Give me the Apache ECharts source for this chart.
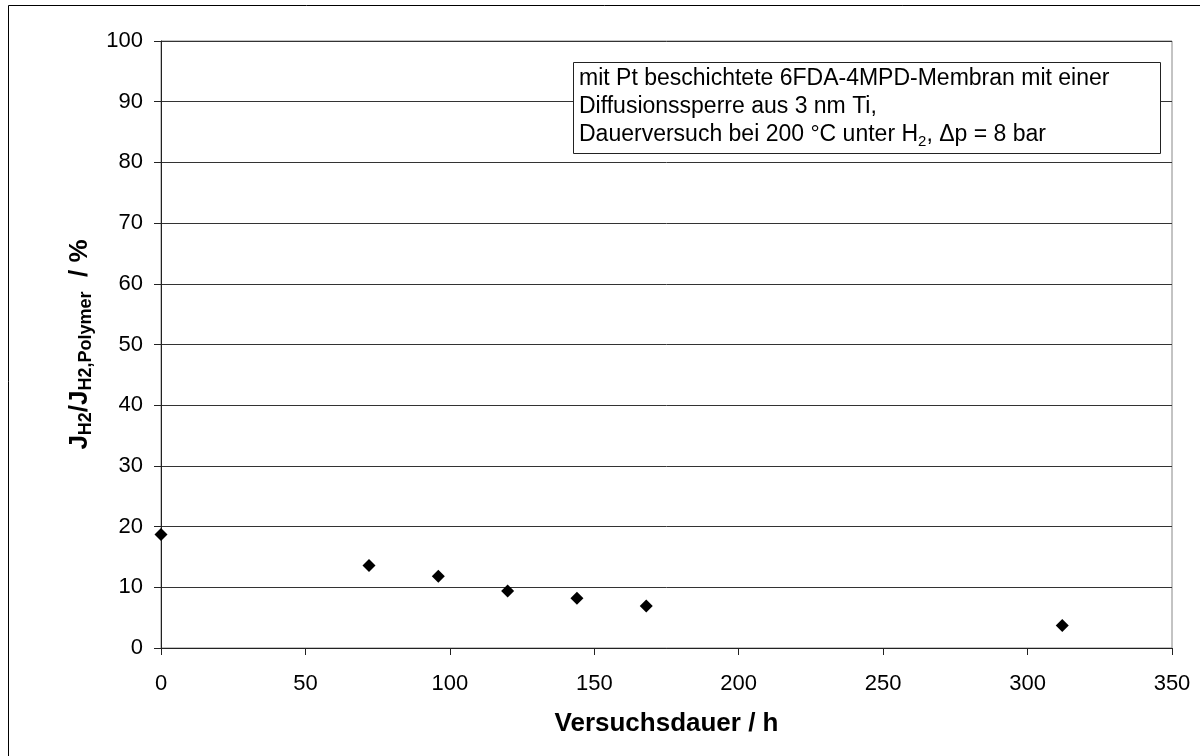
<!DOCTYPE html>
<html>
<head>
<meta charset="utf-8">
<script src="https://cdn.jsdelivr.net/npm/echarts@6/dist/echarts.min.js"></script>
<style>
  html, body { margin: 0; padding: 0; background: #fff; }
  #chart { width: 1200px; height: 756px; }
</style>
</head>
<body>
<div id="chart"></div>
<script>
// Test duration (h) and relative hydrogen flux (%)
const durationH = [0, 72, 96, 120, 144, 168, 312];
const fluxRatioPct = [18.7, 13.6, 11.8, 9.4, 8.2, 6.9, 3.7];

const xTicks = { min: 0, max: 350, interval: 50 };
const yTicks = { min: 0, max: 100, interval: 10 };

const FONT = '"Liberation Sans", Arial, sans-serif';

const points = durationH.map((h, i) => [h, fluxRatioPct[i]]);

const chart = echarts.init(document.getElementById('chart'), null, { renderer: 'canvas' });

chart.setOption({
  backgroundColor: '#fff',
  animation: false,
  textStyle: { fontFamily: FONT },
  title: {
    left: 573,
    top: 62,
    backgroundColor: '#fff',
    borderColor: '#222',
    borderWidth: 1,
    padding: [3, 51, 5, 6],
    text: 'mit Pt beschichtete 6FDA-4MPD-Membran mit einer\n' +
          'Diffusionssperre aus 3 nm Ti,\n' +
          'Dauerversuch bei 200 °C unter H{sub|2}, Δp = 8 bar',
    textStyle: {
      fontFamily: FONT,
      fontSize: 23,
      fontWeight: 'normal',
      color: '#000',
      lineHeight: 28,
      rich: {
        sub: { fontFamily: FONT, fontSize: 15, color: '#000', lineHeight: 28, verticalAlign: 'bottom' }
      }
    }
  },
  graphic: [
    {
      type: 'rect',
      silent: true,
      shape: { x: 8.5, y: 5.5, width: 1220, height: 780 },
      style: { fill: null, stroke: '#000', lineWidth: 1 }
    }
  ],
  grid: {
    left: 161,
    right: 28,
    top: 41,
    bottom: 108,
    show: true,
    borderColor: '#888',
    borderWidth: 1,
    backgroundColor: 'transparent'
  },
  xAxis: {
    type: 'value',
    min: xTicks.min,
    max: xTicks.max,
    interval: xTicks.interval,
    name: 'Versuchsdauer / h',
    nameLocation: 'middle',
    nameGap: 63,
    nameTextStyle: { fontFamily: FONT, fontSize: 26, fontWeight: 'bold', color: '#000' },
    axisLine: { show: true, onZero: false, lineStyle: { color: '#222', width: 1 } },
    axisTick: { show: true, inside: false, length: 7, lineStyle: { color: '#222' } },
    axisLabel: { fontFamily: FONT, fontSize: 22, color: '#000', margin: 25 },
    splitLine: { show: false }
  },
  yAxis: {
    type: 'value',
    min: yTicks.min,
    max: yTicks.max,
    interval: yTicks.interval,
    name: '{m|J}{s|H2}{m|/J}{s|H2,Polymer}{m|  / %}',
    nameLocation: 'middle',
    nameGap: 62,
    nameRotate: 90,
    nameTextStyle: {
      fontFamily: FONT,
      color: '#000',
      rich: {
        m: { fontFamily: FONT, fontSize: 26, fontWeight: 'bold', color: '#000', lineHeight: 32, verticalAlign: 'middle' },
        s: { fontFamily: FONT, fontSize: 18, fontWeight: 'bold', color: '#000', lineHeight: 32, verticalAlign: 'bottom' }
      }
    },
    axisLine: { show: true, onZero: false, lineStyle: { color: '#222', width: 1 } },
    axisTick: { show: true, inside: false, length: 7, lineStyle: { color: '#222' } },
    axisLabel: { fontFamily: FONT, fontSize: 22, color: '#000', margin: 18 },
    splitLine: { show: true, lineStyle: { color: '#333', width: 1 } }
  },
  series: [
    {
      type: 'scatter',
      data: points,
      symbol: 'diamond',
      symbolSize: [13, 13],
      itemStyle: { color: '#000', opacity: 1 },
      z: 5
    }
  ]
});
</script>
</body>
</html>
